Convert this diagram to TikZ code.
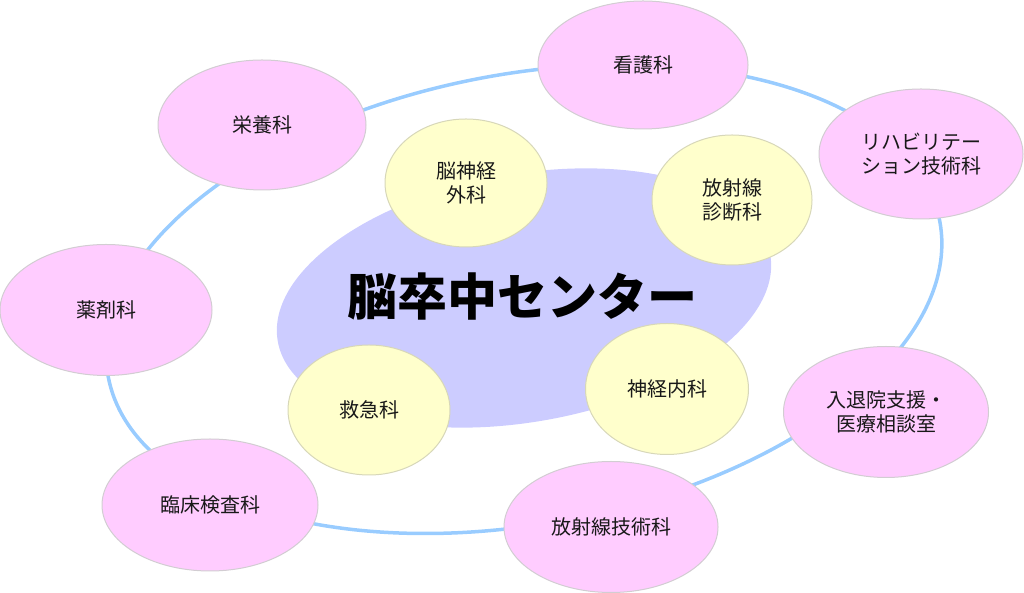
\documentclass[tikz,border=0pt]{standalone}
\usepackage{fontspec}
\newfontfamily\jp{Noto Sans CJK JP}
\usetikzlibrary{shapes.geometric}
\definecolor{ringblue}{RGB}{153,204,255}
\definecolor{centerblue}{RGB}{204,204,255}
\definecolor{pinkfill}{RGB}{255,204,255}
\definecolor{yellowfill}{RGB}{255,255,204}
\definecolor{pinkedge}{RGB}{210,205,210}
\definecolor{yellowedge}{RGB}{215,215,185}
\definecolor{txt}{RGB}{25,25,25}
\tikzset{
  dept/.style={ellipse, draw=pinkedge, line width=1pt, fill=pinkfill, inner sep=0pt,
    text=txt, align=center, font=\jp\fontsize{20}{24}\selectfont},
  core/.style={ellipse, draw=yellowedge, line width=1pt, fill=yellowfill, inner sep=0pt,
    text=txt, align=center, font=\jp\fontsize{20}{23.5}\selectfont},
  ringline/.style={draw=ringblue, line width=3.5pt},
}
\begin{document}
\begin{tikzpicture}[x=1pt,y=1pt]
\useasboundingbox (0,0) rectangle (1024,593);
% outer ring
\draw[ringline, rotate around={10.6:(524,294)}] (524,294) ellipse [x radius=423, y radius=225];
% center ellipse
\fill[centerblue, rotate around={10:(524,295)}] (524,295) ellipse [x radius=250, y radius=124];
\node[text=black, font=\jp\bfseries\fontsize{50}{56}\selectfont] (center) at (522,296) {脳卒中センター};
% core departments
\node[core, minimum width=162pt, minimum height=128pt] (nsg) at (466,410) {脳神経\\外科};
\node[core, minimum width=160pt, minimum height=130pt] (rad) at (732,393) {放射線\\診断科};
\node[core, minimum width=163pt, minimum height=131pt] (neu) at (667,204) {神経内科};
\node[core, minimum width=162pt, minimum height=130pt] (er) at (369,183) {救急科};
% ring departments
\node[dept, minimum width=210pt, minimum height=128pt] (kango) at (643,528) {看護科};
\node[dept, minimum width=208pt, minimum height=130pt] (eiyo) at (262,468) {栄養科};
\node[dept, minimum width=212pt, minimum height=131pt] (yaku) at (106,283) {薬剤科};
\node[dept, minimum width=216pt, minimum height=132pt] (rinsho) at (210,88) {臨床検査科};
\node[dept, minimum width=214pt, minimum height=131pt] (radtech) at (611,66) {放射線技術科};
\node[dept, minimum width=205pt, minimum height=131pt] (nyu) at (886,181) {入退院支援・\\医療相談室};
\node[dept, minimum width=204pt, minimum height=130pt] (reha) at (921,439) {リハビリテー\\ション技術科};
\end{tikzpicture}
\end{document}
